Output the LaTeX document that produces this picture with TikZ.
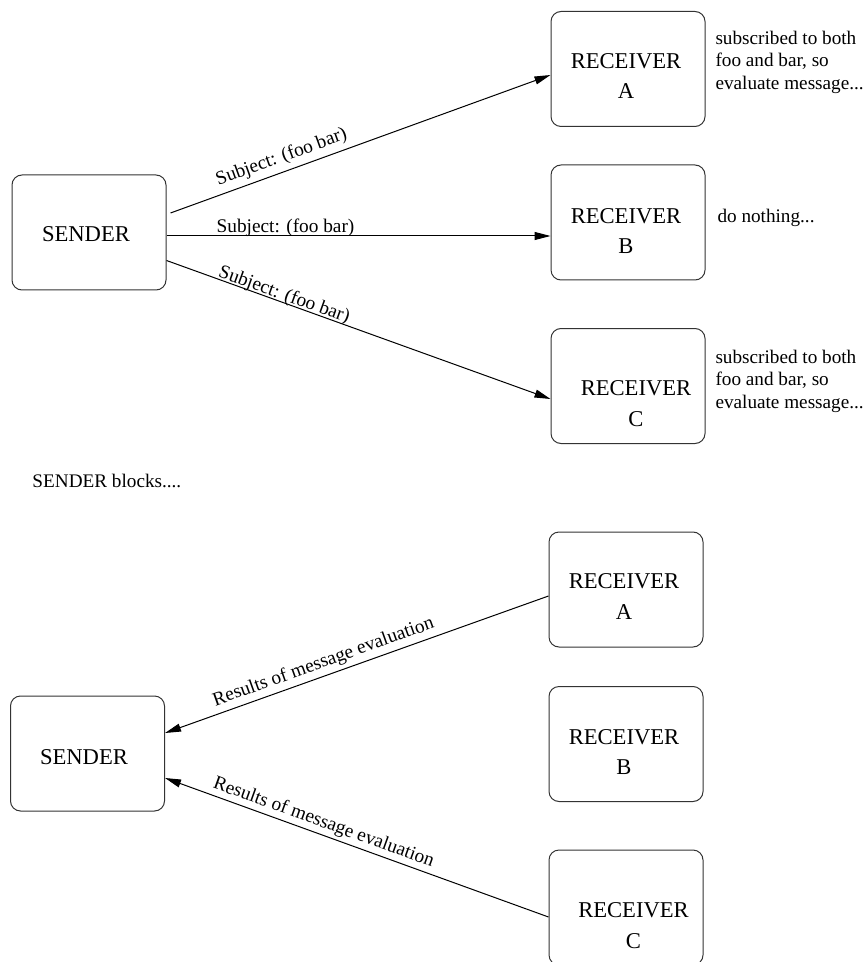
\documentclass[tikz,border=0pt]{standalone}
\usepackage{fontspec}
\setmainfont{Liberation Serif}
\usepackage{tikz}
\usetikzlibrary{arrows.meta, positioning, calc}

\begin{document}
\begin{tikzpicture}[x=0.5pt, y=-0.5pt, line width=0.5pt,
  box/.style={draw=black!80, rounded corners=5pt, minimum width=77pt, minimum height=57.5pt, inner sep=0pt},
  boxtext/.style={font=\fontsize{11.3pt}{15.25pt}\selectfont, align=center, inner sep=0pt},
  note/.style={font=\fontsize{9.6pt}{11.25pt}\selectfont, align=left, inner sep=0pt},
  msg/.style={font=\fontsize{9.65pt}{11.25pt}\selectfont, sloped, inner sep=0pt},
  sendarrow/.style={-{Triangle[length=8pt, width=4pt]}}]
\useasboundingbox (0,0) rectangle (865,962);

% first round: sender posts to all receivers
\node[box] (sendA) at (89,232.5) {};
\node[boxtext] (sendAtxt) at (86,234.5) {SENDER};
\node[box] (rcvA) at (628,69) {};
\node[boxtext] (rcvAtxt) at (626,76) {RECEIVER\\A};
\node[box] (rcvB) at (628,222.5) {};
\node[boxtext] (rcvBtxt) at (626,231) {RECEIVER\\B};
\node[box] (rcvC) at (628,386) {};
\node[boxtext] (rcvCtxt) at (636,403.5) {RECEIVER\\C};

\node[note, anchor=west] (noteA) at (715,62.3) {subscribed to both\\foo and bar, so\\evaluate message...};
\node[note, anchor=base west] (noteB) at (717,223) {do nothing...};
\node[note, anchor=west] (noteC) at (715,381) {subscribed to both\\foo and bar, so\\evaluate message...};

\draw[sendarrow] ($(sendA.east)+(4,-19.5)$) -- node[msg, pos=0.305, above=2.4pt] (subjA) {Subject: (foo bar)} ($(rcvA.west)+(0,6)$);
\draw[sendarrow] ($(sendA.east)+(0,3.5)$) -- node[msg, pos=0.31, above=-0.6pt] (subjB) {Subject: (foo bar)} ($(rcvB.west)+(0,13.5)$);
\draw[sendarrow] ($(sendA.east)+(0,28)$) -- node[msg, pos=0.30, above=-1.1pt] (subjC) {Subject: (foo bar)} ($(rcvC.west)+(0,13)$);

\node[note, anchor=base west] (blocks) at (32,487) {SENDER blocks....};

% second round: receivers answer
\node[box] (sendB) at (87.5,753.5) {};
\node[boxtext] (sendBtxt) at (84,757) {SENDER};
\node[box] (rcvA2) at (626,589.5) {};
\node[boxtext] (rcvA2txt) at (624,596.5) {RECEIVER\\A};
\node[box] (rcvB2) at (626,744) {};
\node[boxtext] (rcvB2txt) at (624,752) {RECEIVER\\B};
\node[box] (rcvC2) at (626,907.5) {};
\node[boxtext] (rcvC2txt) at (633.5,925.5) {RECEIVER\\C};

\draw[sendarrow] ($(rcvA2.west)+(0,6.5)$) -- node[msg, pos=0.575, above=1.9pt] (resA) {Results of message evaluation} ($(sendB.east)+(0,-20.5)$);
\draw[sendarrow] ($(rcvC2.west)+(0,9.5)$) -- node[msg, pos=0.597, above=1.2pt] (resC) {Results of message evaluation} ($(sendB.east)+(0,24.5)$);
\end{tikzpicture}
\end{document}
